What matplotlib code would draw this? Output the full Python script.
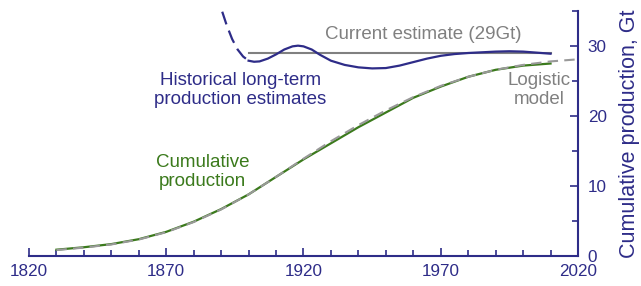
import matplotlib
matplotlib.use("Agg")
import matplotlib.pyplot as plt
from matplotlib.ticker import MultipleLocator

plt.rcParams['font.family'] = ['Liberation Sans', 'DejaVu Sans']

# cumulative production (Gt)
cum_years = [1830, 1840, 1850, 1860, 1870, 1880, 1890, 1900, 1910, 1920,
             1930, 1940, 1950, 1960, 1970, 1980, 1990, 2000, 2010]
cum_prod = [0.9, 1.25, 1.7, 2.4, 3.45, 4.9, 6.7, 8.8, 11.3, 13.8,
            16.1, 18.4, 20.5, 22.6, 24.2, 25.6, 26.6, 27.2, 27.5]

# logistic model fit
logi_years = [1830, 1840, 1850, 1860, 1870, 1880, 1890, 1900, 1910, 1920,
              1930, 1940, 1950, 1960, 1970, 1980, 1990, 2000, 2010, 2020]
logi_vals = [0.85, 1.2, 1.65, 2.35, 3.4, 4.85, 6.65, 8.8, 11.3, 13.9,
             16.4, 18.7, 20.8, 22.7, 24.3, 25.6, 26.6, 27.3, 27.8, 28.1]

# historical long-term production estimates
hist_dash_years = [1890.4, 1892, 1894, 1896, 1898, 1900]
hist_dash_vals = [34.9, 33.0, 31.0, 29.5, 28.5, 27.9]
hist_years = [1900, 1902, 1904, 1907, 1910, 1913, 1916, 1918, 1920, 1923,
              1926, 1930, 1935, 1940, 1945, 1950, 1955, 1960, 1965, 1970,
              1975, 1980, 1985, 1990, 1995, 2000, 2005, 2010]
hist_vals = [27.9, 27.75, 27.8, 28.2, 28.8, 29.5, 29.95, 30.05, 29.95, 29.5,
             28.75, 27.9, 27.3, 26.95, 26.8, 26.85, 27.2, 27.7, 28.2, 28.6,
             28.85, 29.0, 29.1, 29.2, 29.25, 29.2, 29.05, 28.9]

current_est = 29
current_span = [1900, 2010]

x_ticks = [1820, 1870, 1920, 1970, 2020]

navy = '#2e2c88'
green = '#3b7a1c'
grey = '#808080'

fig = plt.figure(figsize=(6.41, 2.86), dpi=100)
ax = fig.add_axes([0.0452, 0.1049, 0.8565, 0.8566])

ax.plot(current_span, [current_est, current_est], color=grey, lw=1.5, zorder=2)
ax.plot(cum_years, cum_prod, color=green, lw=1.6, zorder=3)
ax.plot(logi_years, logi_vals, color='#999999', lw=1.5, ls=(0, (5, 3)), zorder=4)
ax.plot(hist_dash_years, hist_dash_vals, color=navy, lw=1.6, ls=(0, (6, 3)), zorder=5)
ax.plot(hist_years, hist_vals, color=navy, lw=1.6, zorder=5)

ax.set_xlim(1820, 2020)
ax.set_ylim(0, 35)

for s in ['top', 'left']:
    ax.spines[s].set_visible(False)
for s in ['bottom', 'right']:
    ax.spines[s].set_color(navy)
    ax.spines[s].set_linewidth(1.5)

ax.yaxis.tick_right()
ax.yaxis.set_label_position('right')
ax.set_xticks(x_ticks)
ax.xaxis.set_minor_locator(MultipleLocator(10))
ax.yaxis.set_major_locator(MultipleLocator(10))
ax.yaxis.set_minor_locator(MultipleLocator(5))
ax.tick_params(axis='both', which='both', direction='in', color=navy,
               labelcolor=navy, labelsize=12.3, width=1.2)
ax.tick_params(axis='both', which='major', length=6)
ax.tick_params(axis='both', which='minor', length=4)
ax.tick_params(axis='x', pad=6)
ax.tick_params(axis='y', pad=7)
ax.set_ylabel('Cumulative production, Gt', color=navy, fontsize=15.5, labelpad=9)

ax.text(1963.5, 31.6, 'Current estimate (29Gt)', color=grey, fontsize=13.5,
        ha='center', va='center')
ax.text(1896.9, 23.7, 'Historical long-term\nproduction estimates', color=navy,
        fontsize=13.5, ha='center', va='center', linespacing=1.15)
ax.text(1883.2, 12.0, 'Cumulative\nproduction', color=green, fontsize=13.5,
        ha='center', va='center', linespacing=1.15)
ax.text(2005.8, 23.7, 'Logistic\nmodel', color=grey, fontsize=13.5,
        ha='center', va='center', linespacing=1.15)

fig.savefig('out.png', dpi=100)
